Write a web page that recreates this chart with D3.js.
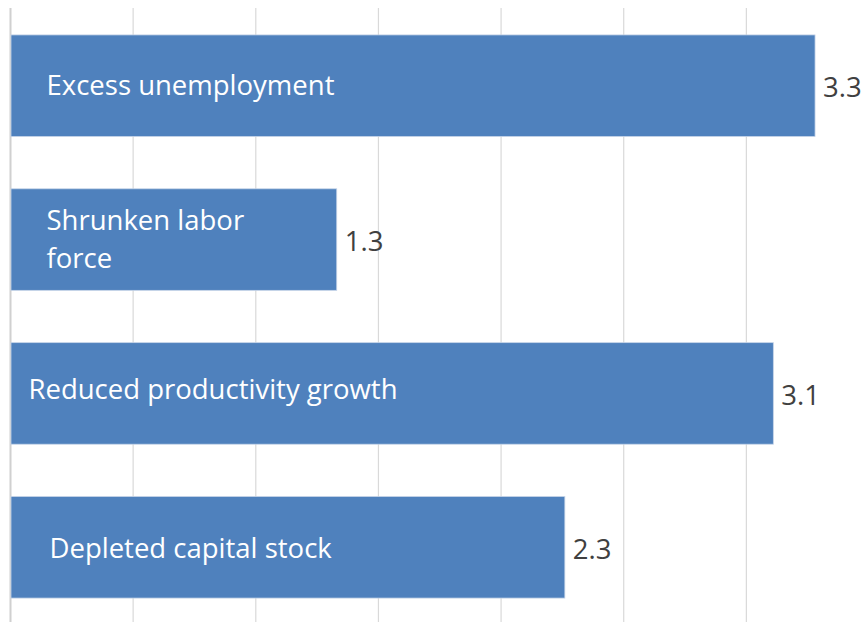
<!DOCTYPE html>
<html>
<head>
<meta charset="utf-8">
<script src="https://cdn.jsdelivr.net/npm/d3@7"></script>
<style>
  body { margin: 0; background: #fff; }
  svg { display: block; font-family: "Open Sans", "Liberation Sans", sans-serif; }
</style>
</head>
<body>
<svg id="chart" width="867" height="622"></svg>
<script>
// data
let categories = ['Excess unemployment', 'Shrunken labor force', 'Reduced productivity growth', 'Depleted capital stock']
let values = [3.28, 1.33, 3.11, 2.26]
let valueLabels = ['3.3', '1.3', '3.1', '2.3']
let gridTicks = [0, 0.5, 1, 1.5, 2, 2.5, 3, 3.5]

// label line breaks and left offsets (style only)
let labelLines = [['Excess unemployment'], ['Shrunken labor', 'force'], ['Reduced productivity growth'], ['Depleted capital stock']]
let labelOffset = [36, 36, 18, 39]
let labelShift = [0, 0, -4, 1]

let svg = d3.select('#chart')

let x = d3.scaleLinear()
    .domain([0, 3.5])
    .range([10.5, 869])

let y = d3.scaleBand()
    .domain(categories)
    .range([8, 625])
    .paddingInner(0.34)
    .paddingOuter(0.175)

// gridlines
svg.append('g')
    .selectAll('line')
    .data(gridTicks)
    .enter()
    .append('line')
    .attr('x1', d => x(d))
    .attr('x2', d => x(d))
    .attr('y1', 8)
    .attr('y2', 622)
    .attr('stroke', d => d === 0 ? '#d0d0d0' : '#d9d9d9')
    .attr('stroke-width', d => d === 0 ? 2 : 1.2)

let bars = svg.append('g')
    .selectAll('g')
    .data(categories)
    .enter()
    .append('g')

bars.append('rect')
    .attr('x', x(0) + 0.5)
    .attr('y', d => y(d))
    .attr('width', (d, i) => x(values[i]) - x(0) - 0.5)
    .attr('height', y.bandwidth())
    .attr('fill', '#4f81bd')
    .attr('stroke', '#c6d4e8')
    .attr('stroke-width', 0.8)

// category labels inside bars
bars.append('text')
    .attr('fill', '#ffffff')
    .attr('font-size', 27.5)
    .each(function (d, i) {
        let t = d3.select(this)
        let lines = labelLines[i]
        let cy = y(d) + y.bandwidth() / 2 + labelShift[i]
        let lh = 38
        lines.forEach((ln, j) => {
            t.append('tspan')
                .attr('x', x(0) + labelOffset[i])
                .attr('y', cy + (j - (lines.length - 1) / 2) * lh)
                .attr('dy', '0.35em')
                .text(ln)
        })
    })

// value labels
bars.append('text')
    .attr('x', (d, i) => x(values[i]) + 8)
    .attr('y', d => y(d) + y.bandwidth() / 2 + 2)
    .attr('dy', '0.35em')
    .attr('fill', '#404040')
    .attr('font-size', 27.5)
    .text((d, i) => valueLabels[i])
</script>
</body>
</html>
